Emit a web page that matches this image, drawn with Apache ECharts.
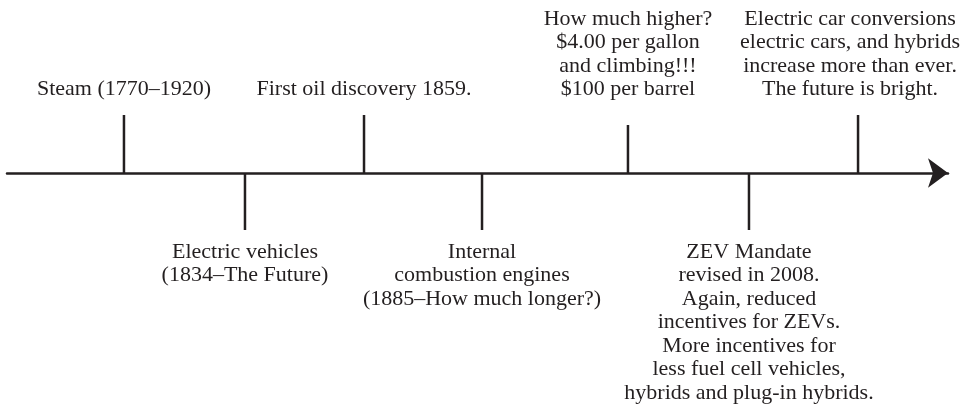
<!DOCTYPE html>
<html lang="en">
<head>
    <meta charset="UTF-8">
    <title>Timeline</title>
    <script src="https://cdn.jsdelivr.net/npm/echarts@6/dist/echarts.min.js"></script>
</head>
<body style="margin:0;background:#fff;">
<div id="chart-container" style="width: 977px;height: 411px;"></div>
</body>
<script type="text/javascript">
    // timeline events, left to right
    var eventLabels = [
        'Steam (1770–1920)',
        'Electric vehicles\n(1834–The Future)',
        'First oil discovery 1859.',
        'Internal\ncombustion engines\n(1885–How much longer?)',
        'How much higher?\n$4.00 per gallon\nand climbing!!!\n$100 per barrel',
        'ZEV Mandate\nrevised in 2008.\nAgain, reduced\nincentives for ZEVs.\nMore incentives for\nless fuel cell vehicles,\nhybrids and plug-in hybrids.',
        'Electric car conversions\nelectric cars, and hybrids\nincrease more than ever.\nThe future is bright.'
    ];
    // position along the line (0-100)
    var eventPositions = [12.43, 25.29, 37.94, 50.48, 65.99, 78.85, 90.44];
    // marker length, positive = above the line
    var markerLengths = [58, -57, 58, -57, 48, -57, 58];

    var lineColor = '#231f20';
    var textFont = '22px "Liberation Serif", serif';

    var container = document.getElementById('chart-container');
    var myChart = echarts.init(container);

    var data = eventPositions.map(function (x, i) {
        return [x, markerLengths[i], i];
    });

    var option = {
        animation: false,
        grid: {left: 7, right: 29, top: 115, bottom: 180},
        xAxis: {
            type: 'value',
            min: 0,
            max: 100,
            axisLine: {
                show: true,
                onZero: true,
                symbol: ['none', 'arrow'],
                symbolSize: [22, 20],
                lineStyle: {color: lineColor, width: 2.5}
            },
            axisTick: {show: false},
            axisLabel: {show: false},
            splitLine: {show: false}
        },
        yAxis: {
            type: 'value',
            min: -58,
            max: 58,
            show: false
        },
        series: [
            {
                type: 'custom',
                data: data,
                renderItem: function (params, api) {
                    var x = api.value(0);
                    var len = api.value(1);
                    var idx = api.value(2);
                    var base = api.coord([x, 0]);
                    var end = api.coord([x, len]);
                    var up = len > 0;
                    var dx = idx === 6 ? -8 : 0;
                    return {
                        type: 'group',
                        children: [
                            {
                                type: 'line',
                                shape: {x1: base[0], y1: base[1], x2: end[0], y2: end[1]},
                                style: {stroke: lineColor, lineWidth: 2.5}
                            },
                            {
                                type: 'text',
                                style: {
                                    text: eventLabels[idx],
                                    x: base[0] + dx,
                                    y: up ? base[1] - 72 : base[1] + 67,
                                    align: 'center',
                                    verticalAlign: up ? 'bottom' : 'top',
                                    font: textFont,
                                    lineHeight: 23.5,
                                    fill: lineColor
                                }
                            }
                        ]
                    };
                }
            }
        ]
    };

    myChart.setOption(option);
</script>
</html>
